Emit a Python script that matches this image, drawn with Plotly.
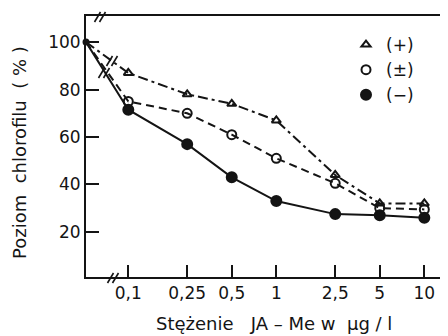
import plotly.graph_objects as go

# ---- data ----
ctrl_x = 0.0518  # position of control (0 µg/l) at the axis break
conc = [0.1, 0.25, 0.5, 1, 2.5, 5, 10]
tick_labels = ["0,1", "0,25", "0,5", "1", "2,5", "5", "10"]
y_ticks = [20, 40, 60, 80, 100]
control = 100
plus_vals = [87, 78, 74, 67, 44, 32, 32]
pm_vals = [75, 70, 61, 51, 40.5, 30, 29.5]
minus_vals = [71.5, 57, 43, 33, 27.5, 27, 26]
legend_names = ["(+)", "(±)", "(−)"]
NB = "\u00a0"
x_title = f"Stężenie{NB}{NB} JA – Me w{NB} µg / l"
y_title = f"Poziom{NB} chlorofilu{NB} ( % )"

# page body has an 8px margin; figure is sized to fill the rest
OFF = 8
W, H = 448 - OFF, 336 - OFF
L, T, B, R = 86, 16, 277, 448   # plot area in window pixels
FONT = "DejaVu Sans"
INK = "#141414"

fig = go.Figure()

x_all = [ctrl_x] + conc
series = [
    (plus_vals, "triangle-up-open", 8, "10px,4px,3px,4px"),
    (pm_vals, "circle-open", 9, "8px,5px"),
    (minus_vals, "circle", 10, "solid"),
]
for vals, sym, size, dash in series:
    fig.add_trace(go.Scatter(
        x=x_all, y=[control] + vals, mode="lines",
        line=dict(color=INK, width=2, dash=dash),
        showlegend=False, cliponaxis=False, hoverinfo="skip"))
    fig.add_trace(go.Scatter(
        x=conc, y=vals, mode="markers",
        marker=dict(symbol=sym, size=size, color=INK,
                    line=dict(color=INK, width=2)),
        showlegend=False, cliponaxis=False))

# control point
fig.add_trace(go.Scatter(x=[ctrl_x], y=[control], mode="markers",
                         marker=dict(symbol="circle", size=7, color=INK),
                         showlegend=False, cliponaxis=False))

# legend entries (markers only)
for (vals, sym, size, dash), name in zip(series, legend_names):
    fig.add_trace(go.Scatter(
        x=[None], y=[None], mode="markers", name=name,
        marker=dict(symbol=sym, size=size, color=INK,
                    line=dict(color=INK, width=2))))


def px(x):
    return (x - L) / (R - L)


def py(y):
    return (B - y) / (B - T)


shapes = []


def brk(cx, cy, gap=5, h=5, w=3):
    for dx in (-gap / 2, gap / 2):
        shapes.append(dict(type="line", xref="paper", yref="paper",
                           x0=px(cx + dx - w), y0=py(cy + h),
                           x1=px(cx + dx + w), y1=py(cy - h),
                           line=dict(color=INK, width=1.6)))


brk(100, 17)
brk(113, 278)
brk(104, 73)
brk(112, 61)

fig.update_layout(
    width=W, height=H,
    margin=dict(l=L - OFF, r=0, t=T - OFF, b=H - (B - OFF)),
    paper_bgcolor="white", plot_bgcolor="white",
    font=dict(family=FONT, size=17, color=INK),
    shapes=shapes,
    legend=dict(x=px(346), y=py(27), xanchor="left", yanchor="top",
                bgcolor="rgba(0,0,0,0)", font=dict(size=17),
                itemwidth=30, tracegroupgap=0),
    xaxis=dict(type="log", range=[-1.2858, 1.16], tickvals=conc,
               ticktext=tick_labels, ticks="inside", ticklen=12,
               tickwidth=2, tickcolor=INK, showline=True, linecolor=INK,
               linewidth=2, mirror=True, showgrid=False, zeroline=False,
               tickfont=dict(size=17)),
    yaxis=dict(range=[1, 111], tickvals=y_ticks, ticks="inside",
               ticklen=13, tickwidth=2, tickcolor=INK, showline=True,
               linecolor=INK, linewidth=2, showgrid=False, zeroline=False,
               tickfont=dict(size=17)),
    annotations=[
        dict(text=x_title, xref="paper", yref="paper",
             x=px(274), y=py(323), xanchor="center", yanchor="middle",
             showarrow=False, font=dict(size=18)),
        dict(text=y_title, xref="paper", yref="paper",
             x=px(19), y=py(153), xanchor="center", yanchor="middle",
             showarrow=False, textangle=-90, font=dict(size=18)),
    ],
)

fig.write_html("out.html")
